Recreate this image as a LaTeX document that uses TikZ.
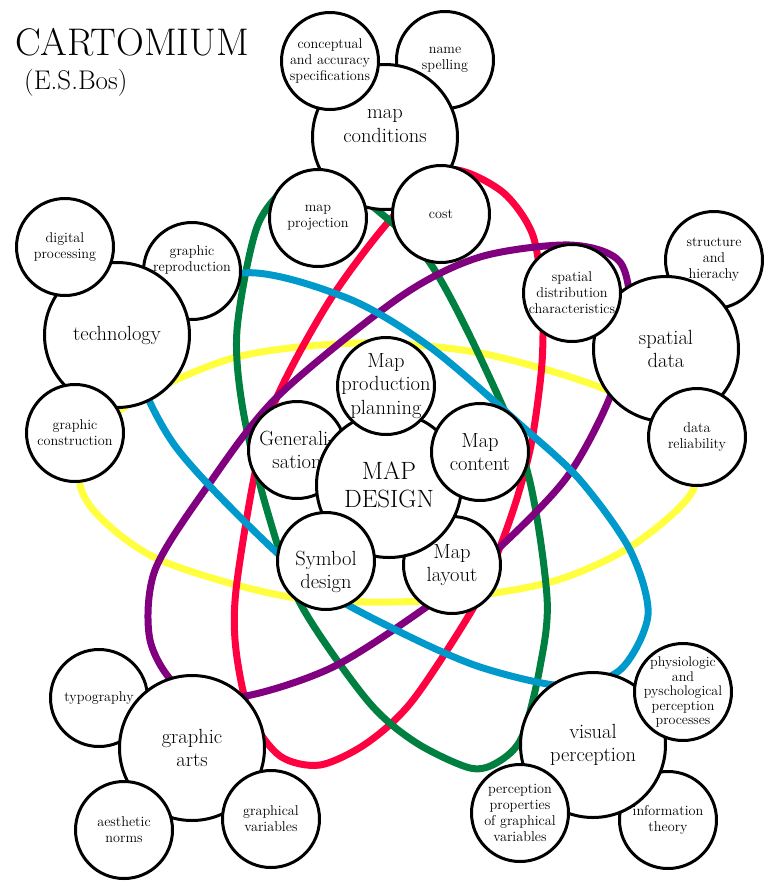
\documentclass[tikz,border=0pt]{standalone}

\definecolor{orbyellow}{RGB}{255,255,64}
\definecolor{orbred}{RGB}{255,0,64}
\definecolor{orbgreen}{RGB}{0,128,64}
\definecolor{orbpurple}{RGB}{128,0,128}
\definecolor{orbblue}{RGB}{0,153,204}

\tikzset{
  orbit/.style={line width=7pt},
  bubble/.style={draw, circle, fill=white, line width=3pt, inner sep=-14pt, align=center},
  smalltext/.style={align=center, font=\fontsize{14.2}{16}\selectfont},
  bigtext/.style={align=center, font=\fontsize{20.5}{23.5}\selectfont},
  small/.style={bubble, minimum size=97pt, smalltext},
  mid/.style={bubble, minimum size=97pt, bigtext},
  big/.style={bubble, minimum size=145pt, bigtext},
  core/.style={bubble, minimum size=145pt, font=\fontsize{25}{28.5}\selectfont},
}

\begin{document}
\begin{tikzpicture}[x=1pt, y=-1pt]
  \useasboundingbox (0,0) rectangle (773,887);
  % title
  \node[anchor=base west, inner sep=0pt, font=\fontsize{38.5}{42}\selectfont] (title) at (15,55) {CARTOMIUM};
  \node[anchor=base west, inner sep=0pt, font=\fontsize{27}{30}\selectfont] (author) at (24,89) {(E.S.Bos)};

  % orbits
  \draw[orbit, orbyellow] plot[smooth cycle] coordinates {(80,470) (120,410) (233,358) (360,343) (480,353) (607,390) (688,440) (692,492) (630,547) (547,583) (423,601) (290,597) (160,560) (95,512)};
  \draw[orbit, orbred] plot[smooth cycle] coordinates {(445,170) (500,190) (532,233) (542,295) (542,363) (532,440) (518,495) (500,547) (475,605) (413,700) (367,743) (320,765) (280,756) (250,715) (236,650) (236,590) (255,473) (277,397) (330,300) (390,220)};
  \draw[orbit, orbgreen] plot[smooth cycle] coordinates {(325,178) (377,210) (430,263) (480,357) (527,470) (547,597) (540,667) (522,737) (498,762) (470,768) (415,742) (367,700) (300,603) (267,510) (243,410) (237,330) (257,227) (290,185)};
  \draw[orbit, orbpurple] plot[smooth cycle] coordinates {(480,257) (570,245) (620,262) (630,320) (610,397) (567,477) (500,547) (432,603) (333,667) (240,697) (180,688) (150,640) (155,570) (207,487) (277,397) (400,297)};
  \draw[orbit, orbblue] plot[smooth cycle] coordinates {(150,318) (243,273) (347,298) (430,347) (523,427) (580,480) (630,550) (648,615) (620,670) (565,686) (480,667) (400,632) (315,585) (240,517) (173,443) (138,370)};

  % map conditions
  \node[small] (spelling) at (445,60) {name\\spelling};
  \node[big, label={[bigtext, yshift=11pt]center:{map\\conditions}}] (conditions) at (385,137) {};
  \node[small] (accuracy) at (330,61) {conceptual\\and accuracy\\specifications};
  \node[small] (projection) at (318,218) {map\\projection};
  \node[small] (cost) at (441,214) {cost};

  % technology
  \node[small, label={[smalltext, yshift=11pt]center:{graphic\\reproduction}}] (reproduction) at (192,271) {};
  \node[big] (technology) at (117,335) {technology};
  \node[small] (digital) at (65,247) {digital\\processing};
  \node[small] (construction) at (75,433) {graphic\\construction};

  % spatial data
  \node[small] (structure) at (714,260) {structure\\and\\hierachy};
  \node[big] (spatial) at (666,349) {spatial\\data};
  \node[small] (distribution) at (572,293) {spatial\\distribution\\characteristics};
  \node[small] (reliability) at (697,437) {data\\reliability};

  % map design
  \node[mid] (generalisation) at (297,450) {Generali-\\sation};
  \node[mid] (layout) at (452,565) {Map\\layout};
  \node[core] (design) at (389,485) {MAP\\DESIGN};
  \node[mid] (planning) at (386,386) {Map\\production\\planning};
  \node[mid] (content) at (480,452) {Map\\content};
  \node[mid, label={[bigtext, yshift=-11pt]center:{Symbol\\design}}] (symbol) at (326,561) {};

  % graphic arts
  \node[small] (typography) at (99,698) {typography};
  \node[big] (arts) at (192,748) {graphic\\arts};
  \node[small] (aesthetic) at (124,830) {aesthetic\\norms};
  \node[small] (variables) at (271,819) {graphical\\variables};

  % visual perception
  \node[small] (information) at (668,820) {information\\theory};
  \node[big] (perception) at (593,745) {visual\\perception};
  \node[small, font=\fontsize{14}{14.5}\selectfont] (physiologic) at (683,692) {physiologic\\and\\pyschological\\perception\\processes};
  \node[small] (properties) at (520,813) {perception\\properties\\of graphical\\variables};
\end{tikzpicture}
\end{document}
